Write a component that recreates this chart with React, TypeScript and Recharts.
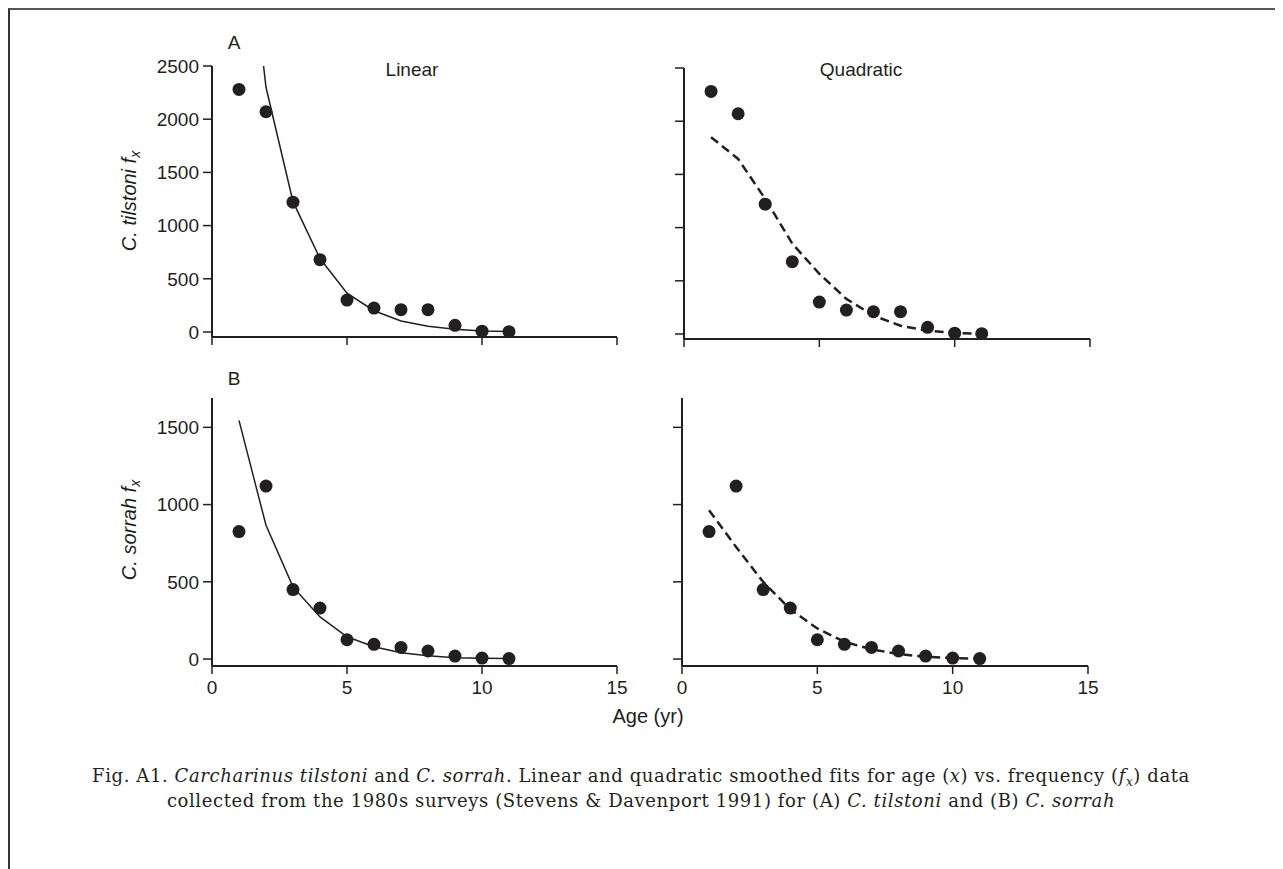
import { ComposedChart, Line, Scatter, XAxis, YAxis } from 'recharts';

const AGES = [1, 2, 3, 4, 5, 6, 7, 8, 9, 10, 11];

// C. tilstoni (panel A)
const TILSTONI_OBS = [2280, 2070, 1220, 680, 300, 225, 210, 210, 63, 8, 3];
const TILSTONI_LINEAR = [4520, 2300, 1225, 690, 365, 200, 103, 53, 25, 10, 5];
const TILSTONI_QUAD = [1850, 1645, 1270, 850, 566, 330, 173, 78, 31, 9, 2];

// C. sorrah (panel B)
const SORRAH_OBS = [825, 1120, 450, 330, 125, 95, 75, 52, 19, 6, 3];
const SORRAH_LINEAR = [1545, 866, 467, 273, 144, 80, 41, 22, 9, 5, 3];
const SORRAH_QUAD = [963, 725, 499, 322, 198, 112, 63, 32, 15, 5, 3];

const X_TICKS = [0, 5, 10, 15];
const TILSTONI_TICKS = [0, 500, 1000, 1500, 2000, 2500];
const SORRAH_TICKS = [0, 500, 1000, 1500];

const INK = '#231f20';
const SANS = '"Liberation Sans", Arial, Helvetica, sans-serif';
const SERIF = '"DejaVu Serif", "Liberation Serif", serif';

const ORIGIN = 8; // body margin

function rows(obs: number[], fit: number[]) {
  return AGES.map((age, i) => ({ age, obs: obs[i], fit: fit[i] }));
}

const Y_AXIS_W = 70;
const X_AXIS_H = 36;
const M = { top: 10, right: 12, left: 0, bottom: 0 };

// tick marks stay, labels go
const NoLabel = () => <g />;

function Panel({
  left,
  top,
  width,
  height,
  data,
  domain,
  yTicks,
  dashed,
  showYLabels,
  showXLabels,
}: {
  left: number;
  top: number;
  width: number;
  height: number;
  data: { age: number; obs: number; fit: number }[];
  domain: [number, number];
  yTicks: number[];
  dashed: boolean;
  showYLabels: boolean;
  showXLabels: boolean;
}) {
  const tickStyle = { fill: INK, fontSize: 19, fontFamily: SANS };
  return (
    <div
      style={{
        position: 'absolute',
        left: left - ORIGIN - Y_AXIS_W - M.left,
        top: top - ORIGIN - M.top,
      }}
    >
      <ComposedChart
        width={width + Y_AXIS_W + M.left + M.right}
        height={height + X_AXIS_H + M.top + M.bottom}
        data={data}
        margin={M}
      >
        <XAxis
          type="number"
          dataKey="age"
          domain={[0, 15]}
          ticks={X_TICKS}
          height={X_AXIS_H}
          axisLine={{ stroke: INK, strokeWidth: 2 }}
          tickLine={{ stroke: INK, strokeWidth: 1.5 }}
          tickSize={8}
          tickMargin={7}
          tick={showXLabels ? tickStyle : NoLabel}
          interval={0}
        />
        <YAxis
          type="number"
          domain={domain}
          allowDataOverflow
          ticks={yTicks}
          width={Y_AXIS_W}
          axisLine={{ stroke: INK, strokeWidth: 2 }}
          tickLine={{ stroke: INK, strokeWidth: 1.5 }}
          tickSize={9}
          tickMargin={4}
          tick={showYLabels ? tickStyle : NoLabel}
          interval={0}
        />
        <Line
          dataKey="fit"
          type="linear"
          stroke={INK}
          strokeWidth={dashed ? 2.5 : 1.5}
          strokeDasharray={dashed ? '9 5' : undefined}
          dot={false}
          activeDot={false}
          isAnimationActive={false}
        />
        <Scatter
          dataKey="obs"
          fill={INK}
          shape={(p: any) => <circle cx={p.cx} cy={p.cy} r={6.5} fill={INK} />}
          isAnimationActive={false}
        />
      </ComposedChart>
    </div>
  );
}

function Text({
  x,
  y,
  children,
  size = 19,
  family = SANS,
  rotate = false,
}: {
  x: number;
  y: number;
  children: React.ReactNode;
  size?: number;
  family?: string;
  rotate?: boolean;
}) {
  return (
    <div
      style={{
        position: 'absolute',
        left: x - ORIGIN,
        top: y - ORIGIN,
        transform: `translate(-50%, -50%)${rotate ? ' rotate(-90deg)' : ''}`,
        fontFamily: family,
        fontSize: size,
        color: INK,
        whiteSpace: 'nowrap',
        lineHeight: 1,
      }}
    >
      {children}
    </div>
  );
}

const Sub = ({ children, size }: { children: React.ReactNode; size: number }) => (
  <span style={{ fontSize: size, position: 'relative', top: '0.3em', lineHeight: 0 }}>
    {children}
  </span>
);

export default function App() {
  const tilstoni = {
    lin: rows(TILSTONI_OBS, TILSTONI_LINEAR),
    quad: rows(TILSTONI_OBS, TILSTONI_QUAD),
  };
  const sorrah = {
    lin: rows(SORRAH_OBS, SORRAH_LINEAR),
    quad: rows(SORRAH_OBS, SORRAH_QUAD),
  };

  return (
    <div style={{ position: 'relative', width: 1275, height: 861 }}>
      {/* frame: top and left rules only */}
      <div
        style={{
          position: 'absolute',
          left: 0,
          top: 0,
          width: 1275,
          height: 861,
          borderTop: '2px solid #555',
          borderLeft: '2px solid #333',
          boxSizing: 'border-box',
        }}
      />

      <Panel left={212} top={66} width={405} height={271} data={tilstoni.lin}
        domain={[-47, 2500]} yTicks={TILSTONI_TICKS} dashed={false} showYLabels showXLabels={false} />
      <Panel left={684} top={68} width={406} height={271} data={tilstoni.quad}
        domain={[-47, 2500]} yTicks={TILSTONI_TICKS} dashed showYLabels={false} showXLabels={false} />
      <Panel left={212} top={398} width={405} height={268} data={sorrah.lin}
        domain={[-45, 1690]} yTicks={SORRAH_TICKS} dashed={false} showYLabels showXLabels />
      <Panel left={682} top={398} width={406} height={268} data={sorrah.quad}
        domain={[-45, 1690]} yTicks={SORRAH_TICKS} dashed showYLabels={false} showXLabels />

      <Text x={234} y={42}>A</Text>
      <Text x={234} y={378}>B</Text>
      <Text x={412} y={69}>Linear</Text>
      <Text x={861} y={69}>Quadratic</Text>

      <Text x={129} y={201} size={20} rotate>
        <i>C. tilstoni f</i>
        <Sub size={14}><i>x</i></Sub>
      </Text>
      <Text x={129} y={530} size={20} rotate>
        <i>C. sorrah f</i>
        <Sub size={14}><i>x</i></Sub>
      </Text>

      <Text x={648} y={716} size={20}>Age (yr)</Text>

      <div
        style={{
          position: 'absolute',
          left: 40 - ORIGIN,
          width: 1202,
          top: 763 - ORIGIN,
          textAlign: 'center',
          fontFamily: SERIF,
          fontSize: 18,
          letterSpacing: 0.6,
          lineHeight: '25px',
          color: INK,
        }}
      >
        Fig. A1. <i>Carcharinus tilstoni</i> and <i>C. sorrah</i>. Linear and quadratic smoothed
        fits for age (<i>x</i>) vs. frequency (<i>f</i>
        <Sub size={12}><i>x</i></Sub>) data
        <br />
        collected from the 1980s surveys (Stevens &amp; Davenport 1991) for (A) <i>C. tilstoni</i> and
        (B) <i>C. sorrah</i>
      </div>
    </div>
  );
}
